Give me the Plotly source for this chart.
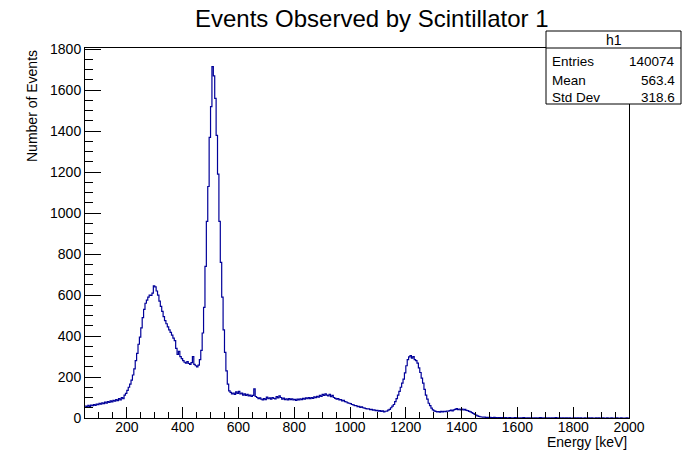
import numpy as np
import plotly.graph_objects as go

# Histogram h1: energy spectrum, 5 keV bins from 50 to 2000 keV
bin_edges = np.arange(50, 2001, 5)

counts = [
    # 50 - 145
    58, 55, 62, 57, 63, 60, 66, 62, 68, 65, 72, 68, 74, 70, 77, 73, 80, 76, 84, 79,
    # 150 - 245
    86, 82, 90, 85, 95, 88, 100, 94, 112, 120, 135, 150, 165, 185, 210, 240, 280, 315, 360, 395,
    # 250 - 345
    440, 490, 530, 560, 575, 590, 600, 598, 610, 645, 640, 620, 600, 570, 545, 520, 495, 475, 460, 445,
    # 350 - 445
    430, 418, 405, 390, 378, 340, 310, 325, 300, 290, 280, 272, 268, 275, 266, 262, 270, 300, 262, 255,
    # 450 - 545
    250, 258, 285, 330, 415, 540, 740, 960, 1130, 1370, 1520, 1715, 1670, 1560, 1380, 1190, 960, 760, 590, 430,
    # 550 - 645
    320, 230, 165, 132, 125, 118, 122, 115, 128, 120, 130, 118, 122, 112, 118, 110, 115, 108, 112, 105,
    # 650 - 745
    110, 142, 105, 100, 95, 98, 92, 88, 95, 90, 102, 94, 98, 92, 100, 96, 93, 104, 98, 108,
    # 750 - 845
    100, 92, 97, 90, 94, 88, 95, 90, 93, 88, 91, 86, 92, 88, 94, 90, 96, 92, 98, 94,
    # 850 - 945
    99, 95, 100, 96, 103, 99, 106, 102, 110, 105, 115, 110, 118, 112, 108, 116, 104, 110, 100, 96,
    # 950 - 1045
    92, 95, 88, 90, 84, 86, 80, 78, 74, 72, 70, 66, 64, 60, 61, 56, 57, 52, 54, 50,
    # 1050 - 1145
    48, 46, 44, 45, 41, 42, 38, 40, 36, 37, 34, 36, 32, 35, 30, 33, 34, 38, 42, 50,
    # 1150 - 1245
    58, 66, 80, 95, 112, 130, 150, 170, 190, 220, 255, 285, 298, 305, 292, 300, 285, 280, 268, 245,
    # 1250 - 1345
    222, 195, 170, 140, 112, 92, 72, 60, 48, 40, 35, 32, 30, 31, 29, 32, 30, 33, 31, 34,
    # 1350 - 1445
    33, 36, 38, 35, 40, 42, 46, 41, 44, 40, 43, 39, 42, 37, 36, 32, 30, 26, 22, 18,
    # 1450 - 1545
    14, 10, 8, 6, 5, 4, 4, 3, 3, 2, 3, 2, 2, 3, 2, 1, 2, 2, 1, 2,
    # 1550 - 1645
    1, 2, 1, 1, 2, 1, 0, 1, 2, 1, 1, 0, 1, 1, 2, 1, 0, 1, 1, 0,
    # 1650 - 1745
    1, 0, 1, 1, 0, 1, 2, 1, 0, 1, 1, 0, 1, 0, 1, 1, 0, 2, 1, 0,
    # 1750 - 1845
    1, 0, 1, 0, 1, 1, 0, 1, 0, 0, 1, 1, 0, 1, 0, 1, 0, 0, 1, 0,
    # 1850 - 1945
    0, 1, 0, 1, 0, 0, 1, 0, 1, 0, 0, 1, 0, 0, 1, 0, 0, 1, 0, 0,
    # 1950 - 1995
    0, 1, 0, 0, 1, 0, 0, 0, 1, 0,
]

stat_names = ["Entries", "Mean", "Std Dev"]
stat_values = ["140074", "563.4", "318.6"]
hist_name = "h1"

title_text = "Events Observed by Scintillator 1"
x_title = "Energy [keV]"
y_title = "Number of Events"

FONT = "Liberation Sans, Arial, Helvetica, sans-serif"
LINE_COLOR = "#000099"

fig = go.Figure()

# stepped outline, one step per bin
fig.add_trace(go.Scatter(
    x=bin_edges,
    y=list(counts) + [counts[-1]],
    mode="lines",
    line=dict(color=LINE_COLOR, width=1.2, shape="hv"),
    hoverinfo="skip",
    showlegend=False,
))

axis_common = dict(
    showgrid=False,
    zeroline=False,
    showline=True,
    mirror=True,
    linecolor="black",
    linewidth=1,
    ticks="inside",
    tickcolor="black",
    tickwidth=1,
    tickfont=dict(family=FONT, size=14, color="black"),
)

fig.update_xaxes(
    **axis_common,
    range=[50, 2000],
    tick0=0,
    dtick=200,
    ticklen=11,
    ticklabelstandoff=-4,
    minor=dict(ticks="inside", dtick=50, tick0=0, ticklen=6, tickcolor="black", tickwidth=1),
)
fig.update_yaxes(
    **axis_common,
    range=[0, 1806],
    tick0=0,
    dtick=200,
    ticklen=16,
    minor=dict(ticks="inside", dtick=50, tick0=0, ticklen=8, tickcolor="black", tickwidth=1),
)

# plot frame geometry in pixels (for the paper-referenced stat box)
L, R, T, B = 85, 629, 48, 418
W, H = R - L, B - T


def px_x(px):
    return (px - L) / W


def px_y(py):
    return (B - py) / H


box_l, box_r, box_t, box_b, box_sep = 546, 681, 31, 104, 48

shapes = [
    dict(type="rect", xref="paper", yref="paper",
         x0=px_x(box_l), x1=px_x(box_r), y0=px_y(box_b), y1=px_y(box_t),
         fillcolor="white", line=dict(color="black", width=1), layer="above"),
    dict(type="line", xref="paper", yref="paper",
         x0=px_x(box_l), x1=px_x(box_r), y0=px_y(box_sep), y1=px_y(box_sep),
         line=dict(color="black", width=1), layer="above"),
]

annotations = [
    dict(text=title_text, xref="paper", yref="paper",
         x=px_x(372), y=px_y(19), xanchor="center", yanchor="middle",
         showarrow=False, font=dict(family=FONT, size=24, color="black")),
    dict(text=x_title, xref="paper", yref="paper",
         x=1.0, y=px_y(442), xanchor="right", yanchor="middle",
         showarrow=False, font=dict(family=FONT, size=14, color="black")),
    dict(text=y_title, xref="paper", yref="paper",
         x=px_x(32), y=1.0, xanchor="center", yanchor="top", textangle=-90,
         showarrow=False, font=dict(family=FONT, size=14, color="black")),
    dict(text=hist_name, xref="paper", yref="paper",
         x=px_x((box_l + box_r) / 2), y=px_y(40), xanchor="center", yanchor="middle",
         showarrow=False, font=dict(family=FONT, size=14, color="black")),
]

row_y = [62, 80, 97]
for name, val, ry in zip(stat_names, stat_values, row_y):
    annotations.append(dict(text=name, xref="paper", yref="paper",
                            x=px_x(box_l + 4), y=px_y(ry), xanchor="left", yanchor="middle",
                            showarrow=False, font=dict(family=FONT, size=13.5, color="black")))
    annotations.append(dict(text=val, xref="paper", yref="paper",
                            x=px_x(box_r - 4), y=px_y(ry), xanchor="right", yanchor="middle",
                            showarrow=False, font=dict(family=FONT, size=13.5, color="black")))

fig.update_layout(
    width=684,
    height=453,
    autosize=False,
    margin=dict(l=L, r=684 - R, t=T, b=453 - B),
    paper_bgcolor="white",
    plot_bgcolor="white",
    shapes=shapes,
    annotations=annotations,
    font=dict(family=FONT, color="black"),
)

fig.write_html("out.html")
